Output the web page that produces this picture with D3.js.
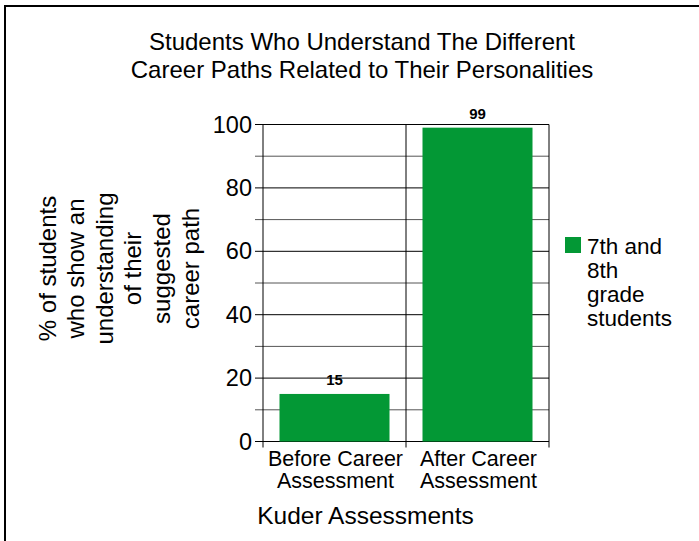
<!DOCTYPE html>
<html>
<head>
<meta charset="utf-8">
<script src="https://cdn.jsdelivr.net/npm/d3@7"></script>
<style>
  html, body { margin: 0; padding: 0; background: #fff; }
  svg { display: block; font-family: Arial, "Liberation Sans", sans-serif; }
</style>
</head>
<body>
<svg id="chart" width="699" height="541"></svg>
<script>
const categories = [["Before Career", "Assessment"], ["After Career", "Assessment"]];
const values = [15, 99];
const seriesName = ["7th and", "8th", "grade", "students"];
const yTicks = [0, 20, 40, 60, 80, 100];
const yMinor = [10, 30, 50, 70, 90];
const titleLines = ["Students Who Understand The Different", "Career Paths Related to Their Personalities"];
const yTitleLines = ["% of students", "who show an", "understanding", "of their", "suggested", "career path"];
const xTitle = "Kuder Assessments";

const svg = d3.select("#chart");
const green = "#039835";
const L = 263, R = 549, T = 124.5, B = 441.5;

// outer frame (left and top edges visible)
svg.append("rect").attr("x", 5).attr("y", 6).attr("width", 720).attr("height", 560)
  .attr("fill", "none").attr("stroke", "#000").attr("stroke-width", 2);

const x = d3.scaleBand().domain(d3.range(values.length)).range([L, R]).paddingInner(0).paddingOuter(0);
const y = d3.scaleLinear().domain([0, 100]).range([B, T]);

// minor gridlines (gray)
svg.selectAll(".minor").data(yMinor).join("line")
  .attr("x1", L - 8).attr("x2", R).attr("y1", d => y(d)).attr("y2", d => y(d))
  .attr("stroke", "#555").attr("stroke-width", 1);
// major gridlines (black)
svg.selectAll(".major").data(yTicks).join("line")
  .attr("x1", L - 8).attr("x2", R).attr("y1", d => y(d)).attr("y2", d => y(d))
  .attr("stroke", "#000").attr("stroke-width", 1);

// category separators and bottom ticks
const seps = [0, 1, 2].map(i => i < values.length ? x(i) : x(values.length - 1) + x.bandwidth());
svg.selectAll(".sep").data(seps).join("line")
  .attr("x1", d => d).attr("x2", d => d).attr("y1", T).attr("y2", B + 6)
  .attr("stroke", "#000").attr("stroke-width", 1);

// bars
const pad = 16.5;
svg.selectAll(".bar").data(values).join("rect")
  .attr("x", (d, i) => x(i) + pad).attr("width", x.bandwidth() - 2 * pad)
  .attr("y", d => y(d)).attr("height", d => B - y(d))
  .attr("fill", green);

// value labels
svg.selectAll(".vl").data(values).join("text")
  .attr("x", (d, i) => x(i) + x.bandwidth() / 2).attr("y", d => y(d) - 9)
  .attr("text-anchor", "middle").attr("font-size", 15).attr("font-weight", "bold")
  .text(d => d);

// y tick labels
svg.selectAll(".yt").data(yTicks).join("text")
  .attr("x", L - 11).attr("y", d => y(d) + 8)
  .attr("text-anchor", "end").attr("font-size", 23.5)
  .text(d => d);

// x tick labels
categories.forEach((lines, i) => {
  const cx = x(i) + x.bandwidth() / 2 + 1;
  const t = svg.append("text").attr("text-anchor", "middle").attr("font-size", 21.5);
  lines.forEach((ln, j) => t.append("tspan").attr("x", cx).attr("y", 466 + j * 22).text(ln));
});

// x axis title
svg.append("text").attr("x", 365.5).attr("y", 524).attr("text-anchor", "middle")
  .attr("font-size", 24.5).text(xTitle);

// title
const tt = svg.append("text").attr("text-anchor", "middle").attr("font-size", 24);
titleLines.forEach((ln, j) => tt.append("tspan").attr("x", 362).attr("y", 49.5 + j * 28).text(ln));

// y title (rotated)
const yt = svg.append("text").attr("text-anchor", "middle").attr("font-size", 24)
  .attr("transform", "translate(0,268.5) rotate(-90)");
yTitleLines.forEach((ln, j) => yt.append("tspan").attr("x", 0).attr("y", 55.5 + j * 28.6).text(ln));

// legend
svg.append("rect").attr("x", 565).attr("y", 237).attr("width", 16).attr("height", 16).attr("fill", green);
const lg = svg.append("text").attr("font-size", 22.5);
seriesName.forEach((ln, j) => lg.append("tspan").attr("x", 587).attr("y", 254 + j * 24).text(ln));
</script>
</body>
</html>
